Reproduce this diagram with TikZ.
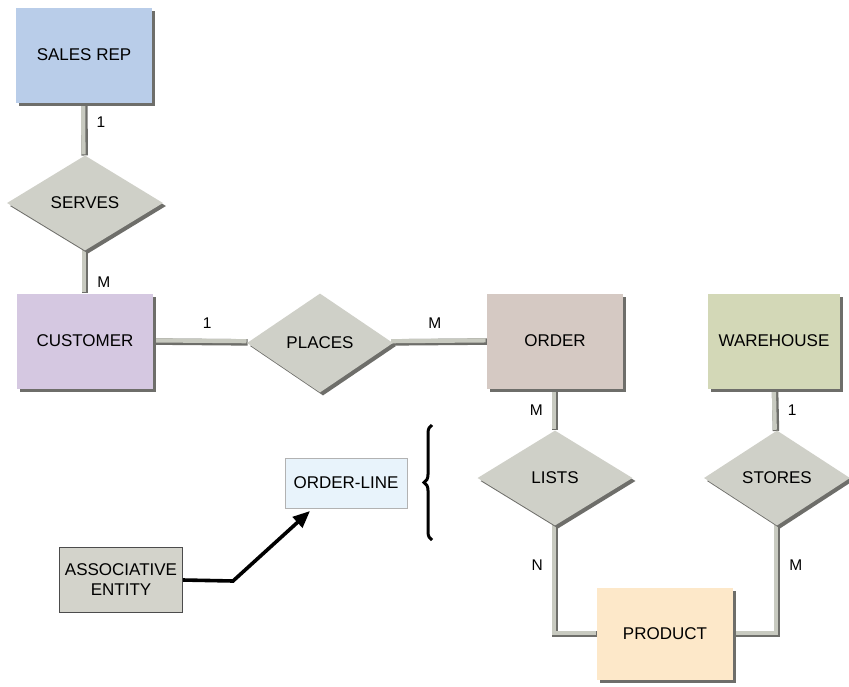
\documentclass[tikz,border=0pt]{standalone}
\usepackage{fontspec}
\setmainfont{Liberation Sans}
\usetikzlibrary{arrows.meta, positioning, shapes.geometric, shadows, backgrounds, decorations.pathreplacing}
\definecolor{erSales}{HTML}{B9CDE9}
\definecolor{erCust}{HTML}{D5C8E1}
\definecolor{erOrder}{HTML}{D5C9C3}
\definecolor{erWare}{HTML}{D3D8B7}
\definecolor{erProd}{HTML}{FDE8C9}
\definecolor{erRel}{HTML}{CFD0C8}
\definecolor{erAssoc}{HTML}{D3D3CB}
\definecolor{erLine}{HTML}{E8F3FB}
\definecolor{erLink}{HTML}{C8CAC0}
\definecolor{erShadow}{HTML}{6E6E6A}

\begin{document}
\begin{tikzpicture}[x=1pt, y=-1pt,
  entity/.style={rectangle, minimum width=136pt, minimum height=95pt, inner sep=0pt,
                 font=\fontsize{17}{19}\selectfont,
                 drop shadow={shadow xshift=3pt, shadow yshift=-3pt, fill=erShadow, opacity=1}},
  rel/.style={diamond, aspect=1.6, fill=erRel, inner sep=0pt, minimum width=152pt,
              minimum height=95pt, font=\fontsize{17}{19}\selectfont,
              drop shadow={shadow xshift=3pt, shadow yshift=-3pt, fill=erShadow, opacity=1}},
  link/.style={draw=erShadow, line width=6.5pt,
               postaction={draw=erLink, line width=4.2pt, transform canvas={shift={(-1.2pt,1.2pt)}}}},
  card/.style={font=\fontsize{15.5}{17}\selectfont, inner sep=2pt},
  note/.style={rectangle, inner sep=0pt, line width=0.8pt, align=center,
               font=\fontsize{17}{20}\selectfont},
  assocarr/.style={-{Triangle[length=17pt,width=14pt]}, line width=3.6pt, line join=miter}
]
  \useasboundingbox (0,0) rectangle (849,686);

  % entities
  \node[entity, fill=erSales] (salesrep) at (84,55) {SALES REP};
  \node[entity, fill=erCust] (customer) at (85,341) {CUSTOMER};
  \node[entity, fill=erOrder] (order) at (555,341) {ORDER};
  \node[entity, fill=erWare, minimum width=132pt] (warehouse) at (774,341) {WAREHOUSE};
  \node[entity, fill=erProd, minimum height=92pt] (product) at (665,634) {PRODUCT};

  % relationships
  \node[rel, minimum width=156pt] (serves) at (85,203) {SERVES};
  \node[rel, minimum width=146pt, minimum height=99pt] (places) at (320,343) {PLACES};
  \node[rel, minimum width=155pt] (lists) at (555,478) {LISTS};
  \node[rel, minimum width=146pt] (stores) at (777,478) {STORES};

  % associative entity note
  \node[note, draw=gray!60, fill=erLine, minimum width=122pt, minimum height=50pt] (orderline) at (346,483) {ORDER-LINE};
  \node[note, draw=gray!60!black, fill=erAssoc, minimum width=123pt, minimum height=65pt] (assoc) at (121,580) {ASSOCIATIVE\\ENTITY};
  \coordinate (bend) at (233,581);
  \coordinate (tip) at (310,511);
  \coordinate (braceTop) at (432,425);
  \coordinate (braceBot) at (432,540);

  \begin{scope}[on background layer]
    \draw[link] (salesrep) -- node[card, right=7pt, pos=0.37]{1} (serves);
    \draw[link] (serves) -- node[card, right=7pt, pos=0.75]{M} (customer);
    \draw[link] (customer) -- node[card, above=8pt, pos=0.57]{1} (places);
    \draw[link] (places) -- node[card, above=8pt, pos=0.45]{M} (order);
    \draw[link] (order) -- node[card, left=7pt, pos=0.52]{M} (lists);
    \draw[link] (warehouse) -- node[card, right=7pt, pos=0.5]{1} (stores);
    \draw[link] (lists.south) |- node[card, left=7pt, pos=0.18]{N} (product.west);
    \draw[link] (stores.south) |- node[card, right=7pt, pos=0.18]{M} (product.east);
  \end{scope}

  \draw[assocarr] (assoc.east) -- (bend) -- (tip);
  \draw[line width=3pt, decorate, decoration={brace, amplitude=8pt}] (braceBot) -- (braceTop);
\end{tikzpicture}
\end{document}
